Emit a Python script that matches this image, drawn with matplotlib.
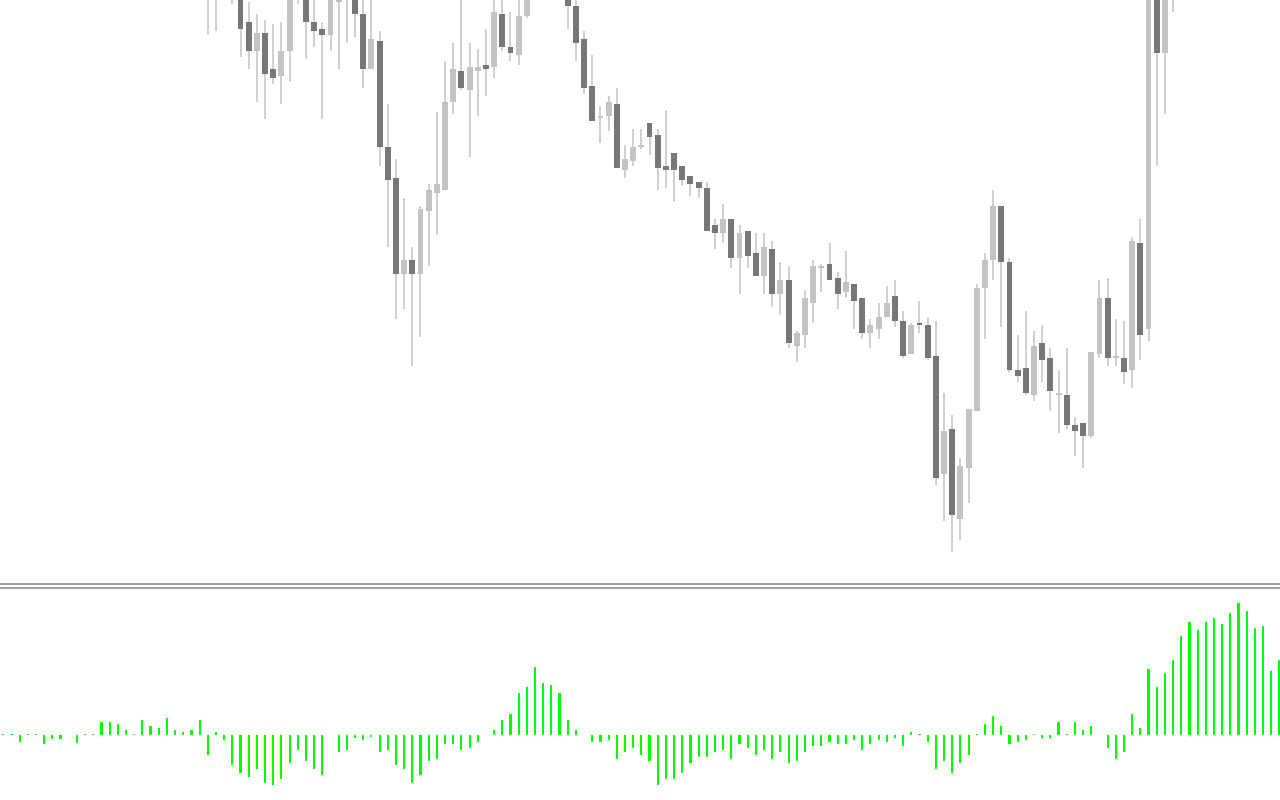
import numpy as np
import matplotlib
matplotlib.use("Agg")
import matplotlib.pyplot as plt
from matplotlib.lines import Line2D

# ---------------- data ----------------
first_bar = 25  # index of first candle that reaches the visible price range
N = None
opens = [
    11643, 11593, N, 11618, 11588, 11561, 11532, 11550, 11514, 11507,
    11532, 11603, 11593, 11561, 11554, 11548, 11581, 11587, 11588, 11569,
    11514, 11542, 11436, 11405, 11309, 11323, 11309, 11372, 11390, 11393,
    11481, 11512, 11493, 11512, 11518, 11516, 11569, 11536, 11528, 11567,
    N, N, N, N, 11613, 11577, 11544, 11497, 11465, 11467,
    11479, 11413, 11422, 11436, 11460, 11448, 11417, 11430, 11417, 11407,
    11401, 11395, 11358, 11350, 11364, 11325, 11352, 11330, 11307, 11334,
    11289, 11303, 11237, 11248, 11280, 11315, 11319, 11305, 11291, 11299,
    11285, 11250, 11254, 11266, 11287, 11262, 11229, 11260, 11258, 11227,
    11109, 11154, 11064, 11115, 11172, 11295, 11323, 11377, 11321, 11213,
    11215, 11188, 11240, 11225, 11188, 11188, 11158, 11160, 11147, 11229,
    11285, 11225, 11225, 11213, 11340, 11254, 11588, 11530, 11613,
]
highs = [
    11653, 11633, N, 11628, 11593, 11581, 11569, 11563, 11559, 11561,
    11598, 11613, 11598, 11585, 11561, 11593, 11598, 11603, 11595, 11586,
    11585, 11552, 11479, 11424, 11385, 11336, 11377, 11399, 11471, 11522,
    11540, 11585, 11540, 11534, 11554, 11585, 11585, 11571, 11585, 11598,
    N, N, N, N, 11618, 11585, 11552, 11528, 11477, 11487,
    11495, 11438, 11454, 11454, 11460, 11454, 11473, 11430, 11417, 11407,
    11401, 11401, 11364, 11379, 11364, 11358, 11352, 11350, 11350, 11342,
    11321, 11317, 11252, 11293, 11323, 11319, 11340, 11311, 11332, 11299,
    11285, 11264, 11280, 11297, 11303, 11272, 11260, 11282, 11266, 11262,
    11190, 11168, 11125, 11174, 11299, 11330, 11393, 11377, 11325, 11248,
    11272, 11252, 11258, 11235, 11213, 11235, 11166, 11160, 11231, 11303,
    11305, 11264, 11262, 11346, 11364, 11603, 11598, 11613, 11653,
]
lows = [
    11548, 11552, N, 11579, 11526, 11514, 11481, 11464, 11499, 11479,
    11501, 11579, 11524, 11536, 11464, 11532, 11514, 11540, 11546, 11495,
    11514, 11417, 11336, 11264, 11274, 11217, 11246, 11317, 11348, 11393,
    11469, 11493, 11426, 11467, 11487, 11505, 11532, 11522, 11518, 11565,
    N, N, N, N, 11554, 11522, 11489, 11462, 11440, 11452,
    11415, 11405, 11417, 11434, 11428, 11393, 11395, 11381, 11397, 11387,
    11385, 11352, 11334, 11340, 11315, 11289, 11315, 11307, 11289, 11276,
    11268, 11235, 11221, 11235, 11260, 11291, 11303, 11274, 11285, 11254,
    11244, 11235, 11244, 11266, 11256, 11225, 11229, 11250, 11223, 11098,
    11062, 11031, 11043, 11080, 11172, 11244, 11303, 11256, 11211, 11201,
    11188, 11182, 11201, 11172, 11150, 11154, 11127, 11115, 11145, 11225,
    11217, 11217, 11199, 11195, 11223, 11242, 11417, 11469, 11571,
]
closes = [
    11598, 11623, N, 11585, 11554, 11532, 11550, 11509, 11505, 11532,
    11588, 11586, 11561, 11552, 11548, 11586, 11584, 11595, 11569, 11514,
    11544, 11436, 11403, 11309, 11323, 11309, 11374, 11393, 11399, 11481,
    11514, 11495, 11516, 11516, 11514, 11571, 11536, 11530, 11567, 11588,
    N, N, N, N, 11577, 11540, 11495, 11462, 11467, 11481,
    11415, 11424, 11436, 11438, 11446, 11415, 11413, 11413, 11403, 11399,
    11395, 11352, 11350, 11364, 11325, 11350, 11327, 11307, 11336, 11289,
    11303, 11240, 11250, 11285, 11317, 11317, 11303, 11289, 11301, 11282,
    11250, 11258, 11266, 11280, 11262, 11227, 11258, 11258, 11225, 11105,
    11152, 11068, 11117, 11174, 11295, 11323, 11377, 11321, 11213, 11207,
    11190, 11237, 11223, 11192, 11190, 11158, 11152, 11147, 11231, 11285,
    11225, 11227, 11211, 11342, 11248, 11593, 11530, 11603, 11643,
]

# oscillator histogram (one value per bar, bars 0..156)
osc = [
    1.5, 1.5, -7, 1.5, 1.5, -9, -3.5, -3.5, 0, -7.5,
    1.5, 1.5, 13, 13, 11, 5, 1.5, 15, 9, 7,
    17, 5, 3, 5, 15, -20, 3, -5, -30, -38,
    -42, -34, -48, -50, -44, -28, -15, -26, -34, -40,
    0, -17, -15, -3, -5, -1.5, -17, -15, -30, -34,
    -48, -40, -26, -24, -9, -9, -15, -13, -7, 0,
    5, 15, 21, 42, 48, 68, 52, 50, 42, 15,
    5, 0, -7, -7, -5, -24, -17, -13, -20, -26,
    -50, -44, -44, -38, -28, -22, -22, -17, -15, -24,
    -9, -13, -20, -15, -24, -17, -28, -26, -17, -11,
    -11, -7, -9, -9, -5, -15, -9, -5, -7, -3,
    -11, 3, 1.5, -7, -34, -26, -38, -28, -20, 1.5,
    11, 19, 9, -9, -7, -5, 1.5, -3, -3, 13,
    1.5, 13, 5, 9, 0, -13, -24, -17, 21, 7,
    66, 48, 62, 75, 99, 113, 105, 113, 117, 111,
    122, 132, 124, 107, 109, 64, 75,
]

# ---------------- figure ----------------
W, H, DPI = 1280, 800, 100
fig = plt.figure(figsize=(W / DPI, H / DPI), dpi=DPI, facecolor="white")

xlim = (-0.403, 156.07)

# price pane
top_h = 583
ax = fig.add_axes([0, (H - top_h) / H, 1, top_h / H])
ax.set_xlim(*xlim)
ax.set_ylim(11000, 11583)
ax.axis("off")

idx = np.arange(first_bar, first_bar + len(opens))
o = np.array([np.nan if v is None else v for v in opens], float)
h = np.array([np.nan if v is None else v for v in highs], float)
l = np.array([np.nan if v is None else v for v in lows], float)
c = np.array([np.nan if v is None else v for v in closes], float)
ok = ~np.isnan(o)
idx, o, h, l, c = idx[ok], o[ok], h[ok], l[ok], c[ok]

wick_col = "#c8c8c8"
up_col = "#c3c3c3"
dn_col = "#777777"

ax.vlines(idx, l, h, color=wick_col, linewidth=1.2, zorder=1)
bull = c >= o
body_bot = np.minimum(o, c)
body_h = np.maximum(np.abs(c - o), 1.5)
ax.bar(idx[bull], body_h[bull], bottom=body_bot[bull], width=0.72,
       color=up_col, linewidth=0, zorder=2)
ax.bar(idx[~bull], body_h[~bull], bottom=body_bot[~bull], width=0.72,
       color=dn_col, linewidth=0, zorder=2)

# separator lines between panes
sep_col = "#8f9090"
for ypix in (584, 588):
    fig.add_artist(Line2D([0, 1], [1 - ypix / H, 1 - ypix / H],
                          transform=fig.transFigure, color=sep_col,
                          linewidth=1.25))

# oscillator pane
bot_top = 589
ax2 = fig.add_axes([0, 0, 1, (H - bot_top) / H])
ax2.set_xlim(*xlim)
ax2.set_ylim(-65, 146)
ax2.axis("off")
bars = np.arange(len(osc))
ax2.bar(bars, osc, width=0.26, color="#00ff00", linewidth=0)

fig.savefig("out.png", dpi=DPI, facecolor="white")
